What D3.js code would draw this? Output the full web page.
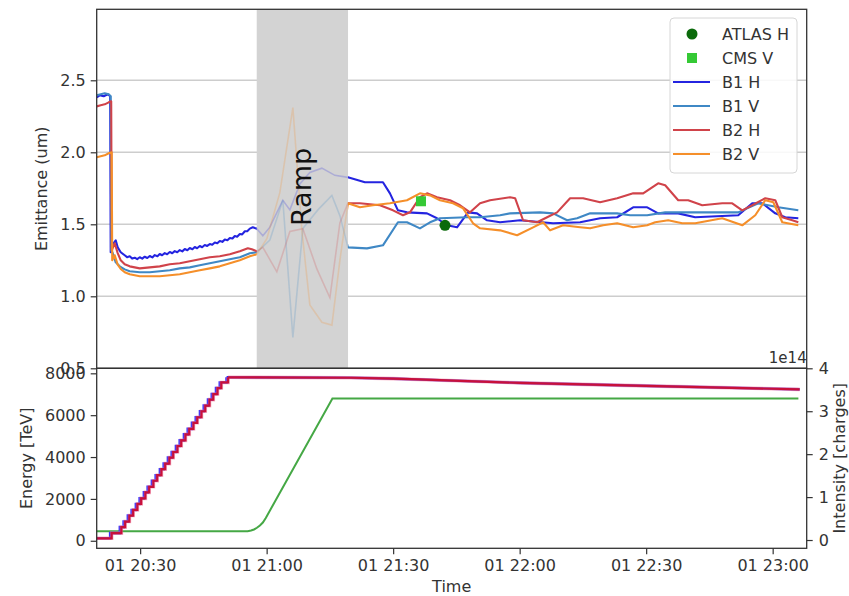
<!DOCTYPE html>
<html>
<head>
<meta charset="utf-8">
<script src="https://cdn.jsdelivr.net/npm/d3@7"></script>
<style>
  body { margin: 0; background: #fff; }
  svg text { font-family: "DejaVu Sans", sans-serif; }
</style>
</head>
<body>
<svg id="chart" width="849" height="596"></svg>
<script>
// All times are minutes after 20:00 on day 01.

// Emittance (um) per beam and plane, [minutes, value]
const b1H = [
  [19.70,2.382],[20.41,2.396],[21.36,2.389],[22.31,2.403],[22.90,2.389],
  [23.02,1.306],[23.50,1.361],[24.21,1.389],[24.68,1.340],[25.40,1.306],
  [26.34,1.285],[26.90,1.272],[27.53,1.278],[28.10,1.262],[28.72,1.268],[29.30,1.258],
  [29.91,1.271],[30.50,1.262],[31.09,1.275],[31.70,1.266],[32.28,1.280],[32.90,1.270],
  [33.47,1.286],[34.10,1.278],[34.65,1.294],[35.20,1.285],[35.84,1.300],[36.40,1.292],
  [37.03,1.308],[37.60,1.299],[38.21,1.314],[38.80,1.306],[39.40,1.321],[40.00,1.312],
  [40.59,1.328],[41.20,1.320],[41.77,1.335],[42.40,1.327],[42.96,1.342],[43.50,1.334],
  [44.15,1.349],[44.70,1.341],[45.33,1.356],[45.90,1.350],[46.52,1.363],[47.10,1.358],
  [47.71,1.374],[48.30,1.368],[48.89,1.384],[49.50,1.378],[50.08,1.394],[50.70,1.389],
  [51.27,1.405],[51.90,1.401],[52.45,1.419],[53.00,1.414],[53.64,1.433],[54.20,1.430],
  [54.83,1.452],[55.40,1.452],[56.01,1.470],[56.72,1.479],[57.20,1.474],[57.67,1.470],
  [59.10,1.420],[60.76,1.480],[63.84,1.667],[65.51,1.600],[67.88,1.780],[70.25,1.860],
  [73.10,1.890],[76.18,1.840],
  [79.27,1.826],[83.31,1.792],[87.58,1.792],[89.24,1.715],[91.14,1.597],[93.28,1.583],
  [98.03,1.576],[100.40,1.542],[102.78,1.493],[105.15,1.479],[107.76,1.583],[109.90,1.576],
  [112.27,1.528],[115.36,1.514],[120.10,1.528],[127.93,1.507],[134.34,1.514],[139.08,1.542],
  [143.12,1.549],[146.92,1.618],[150.24,1.618],[152.85,1.576],[157.60,1.576],[161.63,1.549],
  [171.84,1.563],[175.16,1.646],[177.54,1.646],[180.62,1.576],[182.99,1.549],[186.08,1.542]
];
const b1V = [
  [19.70,2.396],[20.65,2.403],[21.60,2.410],[22.55,2.403],[23.02,2.389],
  [23.14,1.319],[23.50,1.300],[24.21,1.236],[25.16,1.208],[26.34,1.187],[27.53,1.174],
  [29.91,1.167],[32.28,1.167],[34.65,1.174],[37.03,1.181],[39.40,1.194],[41.77,1.201],
  [44.15,1.215],[46.52,1.229],[48.89,1.243],[51.27,1.257],[53.64,1.271],[56.01,1.299],
  [57.67,1.306],
  [60.76,1.390],[63.84,1.667],[66.22,0.715],[68.58,1.470],[72.15,1.600],[75.47,1.700],
  [77.37,1.560],
  [79.27,1.340],[83.79,1.333],[87.58,1.354],[91.14,1.514],[93.28,1.514],[96.36,1.472],
  [98.74,1.514],[101.11,1.542],[107.52,1.549],[110.61,1.549],[115.36,1.563],[117.73,1.576],
  [124.84,1.583],[127.93,1.576],[131.25,1.528],[133.62,1.542],[136.71,1.576],[143.12,1.576],
  [146.21,1.563],[150.24,1.563],[154.51,1.583],[161.63,1.583],[171.84,1.583],[176.59,1.646],
  [181.33,1.618],[186.08,1.597]
];
const b2H = [
  [19.70,2.319],[20.65,2.326],[21.60,2.333],[22.55,2.347],[23.14,2.354],
  [23.26,1.320],[23.97,1.368],[24.68,1.300],[25.40,1.250],[26.34,1.222],[27.53,1.208],
  [29.91,1.194],[32.28,1.201],[34.65,1.208],[37.03,1.222],[39.40,1.229],[41.77,1.243],
  [44.15,1.257],[46.52,1.271],[48.89,1.278],[51.27,1.292],[53.64,1.313],[55.54,1.333],
  [56.49,1.326],[57.67,1.313],
  [59.10,1.340],[62.42,1.170],[65.51,1.450],[68.58,1.470],[71.91,1.190],[75.00,0.990],
  [77.37,1.510],
  [79.27,1.646],[82.12,1.646],[86.87,1.632],[89.96,1.597],[92.33,1.563],[93.99,1.583],
  [96.36,1.688],[98.03,1.715],[100.40,1.688],[103.49,1.667],[105.86,1.632],[108.24,1.583],
  [110.61,1.646],[112.98,1.667],[117.73,1.688],[118.92,1.681],[120.81,1.528],[124.13,1.514],
  [126.51,1.549],[128.88,1.583],[131.96,1.681],[135.05,1.681],[139.08,1.653],[143.12,1.681],
  [146.92,1.715],[149.29,1.715],[152.85,1.785],[154.51,1.771],[157.60,1.667],[159.97,1.667],
  [163.29,1.632],[168.04,1.646],[170.41,1.646],[172.79,1.597],[175.16,1.632],[178.25,1.681],
  [180.62,1.667],[182.28,1.549],[184.65,1.528],[186.08,1.514]
];
const b2V = [
  [19.70,1.965],[20.65,1.972],[21.60,1.979],[22.55,1.993],[23.26,2.000],
  [23.38,1.250],[23.97,1.285],[24.68,1.220],[25.40,1.190],[26.34,1.167],[27.53,1.153],
  [29.91,1.139],[32.28,1.139],[34.65,1.139],[37.03,1.146],[39.40,1.153],[41.77,1.167],
  [44.15,1.181],[46.52,1.194],[48.89,1.208],[51.27,1.229],[53.64,1.250],[56.01,1.278],
  [57.67,1.292],
  [60.05,1.400],[63.13,1.720],[66.22,2.310],[68.35,1.460],[70.25,0.940],[73.10,0.820],
  [75.47,0.800],[77.37,1.250],
  [79.27,1.646],[82.12,1.618],[85.20,1.632],[89.24,1.646],[93.28,1.667],[96.36,1.715],
  [98.74,1.701],[101.11,1.667],[104.20,1.646],[106.58,1.611],[108.95,1.507],[110.61,1.472],
  [115.36,1.458],[119.39,1.424],[123.19,1.479],[125.56,1.514],[127.22,1.458],[130.30,1.493],
  [134.34,1.479],[136.71,1.472],[139.80,1.493],[143.12,1.507],[146.92,1.479],[150.24,1.493],
  [152.14,1.514],[155.23,1.528],[158.55,1.507],[161.63,1.507],[168.04,1.542],[172.79,1.493],
  [175.87,1.563],[178.25,1.667],[180.15,1.653],[182.28,1.514],[186.08,1.493]
];

// Experiment emittance points
const atlasH = [[102.30,1.493]];
const cmsV = [[96.60,1.660]];

// Ramp window (minutes)
const rampWindow = [57.65, 79.30];

// Beam energy (GeV)
const energy = [
  [19.70,450],[54.50,450],[55.50,460],[56.30,490],[57.00,540],[57.70,620],[58.40,730],
  [59.10,870],[59.80,1090],[75.60,6800],[186.10,6800]
];
// Beam intensities (x1e14 charges): injection steps, then the stored beam
const fillB1 = [
  [19.70,0.04],[22.90,0.16],[25.20,0.30],[26.10,0.43],[27.10,0.57],[28.00,0.70],[29.00,0.84],
  [29.90,0.97],[30.90,1.11],[31.80,1.24],[32.80,1.38],[33.70,1.51],[34.70,1.65],[35.60,1.78],
  [36.60,1.92],[37.50,2.05],[38.50,2.19],[39.40,2.32],[40.40,2.46],[41.30,2.59],[42.30,2.73],
  [43.20,2.86],[44.20,3.00],[45.10,3.13],[46.10,3.27],[47.00,3.40],[48.00,3.54],[48.90,3.67],
  [50.50,3.79]
];
const fillB2 = [
  [19.70,0.04],[23.25,0.16],[25.55,0.30],[26.45,0.43],[27.45,0.57],[28.35,0.70],[29.35,0.84],
  [30.25,0.97],[31.25,1.11],[32.15,1.24],[33.15,1.38],[34.05,1.51],[35.05,1.65],[35.95,1.78],
  [36.95,1.92],[37.85,2.05],[38.85,2.19],[39.75,2.32],[40.75,2.46],[41.65,2.59],[42.65,2.73],
  [43.55,2.86],[44.55,3.00],[45.45,3.13],[46.45,3.27],[47.35,3.40],[48.35,3.54],[49.25,3.67],
  [50.85,3.79]
];
const storedB1 = [[50.50,3.79],[80.00,3.78],[90.00,3.76],[96.00,3.74],[120.00,3.66],[150.00,3.59],[186.40,3.51]];
const storedB2 = [[50.85,3.79],[80.00,3.78],[90.00,3.76],[96.00,3.74],[120.00,3.66],[150.00,3.59],[186.40,3.51]];

// Tick values
const emitTicks = [0.5, 1.0, 1.5, 2.0, 2.5];
const energyTicks = [0, 2000, 4000, 6000, 8000];
const intensityTicks = [0, 1, 2, 3, 4];
const timeTicks = [30, 60, 90, 120, 150, 180];

const BASE = Date.UTC(2022, 6, 1, 20, 0, 0);
const at = m => new Date(BASE + m * 60000);

const svg = d3.select("#chart");
const X0 = 96.7, X1 = 806.7, TOP0 = 9.3, MID = 368.3, BOT = 548.3;
const INK = "#333";

const x = d3.scaleUtc().domain([at(19.70), at(188.07)]).range([X0, X1]);
const yEm = d3.scaleLinear().domain([0.5, 2.993]).range([MID, TOP0]);
const yEn = d3.scaleLinear().domain([-360, 8240]).range([BOT, MID]);
const yIn = d3.scaleLinear().domain([-0.193, 4.0]).range([BOT, MID]);

const defs = svg.append("defs");
const r0 = x(at(rampWindow[0])), r1 = x(at(rampWindow[1]));
defs.append("clipPath").attr("id", "inRamp")
  .append("rect").attr("x", r0).attr("y", TOP0).attr("width", r1 - r0).attr("height", MID - TOP0);
const outClip = defs.append("clipPath").attr("id", "outRamp");
outClip.append("rect").attr("x", X0).attr("y", TOP0).attr("width", r0 - X0).attr("height", MID - TOP0);
outClip.append("rect").attr("x", r1).attr("y", TOP0).attr("width", X1 - r1).attr("height", MID - TOP0);

// ---------- emittance panel ----------
const emPanel = svg.append("g");
emPanel.selectAll("line.grid").data(emitTicks.filter(d => d > 0.5)).join("line")
  .attr("class", "grid")
  .attr("x1", X0).attr("x2", X1)
  .attr("y1", d => yEm(d)).attr("y2", d => yEm(d))
  .attr("stroke", "#cdcdcd").attr("stroke-width", 1.6);

emPanel.append("rect").attr("x", r0).attr("y", TOP0).attr("width", r1 - r0).attr("height", MID - TOP0)
  .attr("fill", "#d3d3d3");

const emLine = d3.line().x(d => x(at(d[0]))).y(d => yEm(d[1]));
const emSeries = [
  { name: "B1 H", data: b1H, color: "#2424e0" },
  { name: "B1 V", data: b1V, color: "#3f88c5" },
  { name: "B2 H", data: b2H, color: "#d0434a" },
  { name: "B2 V", data: b2V, color: "#f58f2a" }
];
emSeries.forEach(s => {
  emPanel.append("path").datum(s.data).attr("d", emLine)
    .attr("clip-path", "url(#inRamp)").attr("fill", "none")
    .attr("stroke", s.color).attr("stroke-width", 1.6).attr("opacity", 0.22);
});
emSeries.forEach(s => {
  emPanel.append("path").datum(s.data).attr("d", emLine)
    .attr("clip-path", "url(#outRamp)").attr("fill", "none")
    .attr("stroke", s.color).attr("stroke-width", 2.1).attr("stroke-linejoin", "round");
});

emPanel.selectAll("circle.atlas").data(atlasH).join("circle")
  .attr("cx", d => x(at(d[0]))).attr("cy", d => yEm(d[1])).attr("r", 5.5).attr("fill", "#0b6a0b");
emPanel.selectAll("rect.cms").data(cmsV).join("rect")
  .attr("x", d => x(at(d[0])) - 5).attr("y", d => yEm(d[1]) - 5)
  .attr("width", 10).attr("height", 10).attr("fill", "#35c935");

emPanel.append("text").attr("transform", `translate(${(r0 + r1) / 2 + 8.5},187) rotate(-90)`)
  .attr("text-anchor", "middle").attr("font-size", 27).attr("fill", "#111").text("Ramp");

emPanel.append("g").attr("transform", `translate(${X0},0)`)
  .call(d3.axisLeft(yEm).tickValues(emitTicks).tickFormat(d3.format(".1f")).tickSize(6).tickPadding(5));

emPanel.append("rect").attr("x", X0).attr("y", TOP0).attr("width", X1 - X0).attr("height", MID - TOP0)
  .attr("fill", "none").attr("stroke", INK).attr("stroke-width", 1.3);

emPanel.append("text").attr("transform", `translate(47,${(TOP0 + MID) / 2}) rotate(-90)`)
  .attr("text-anchor", "middle").attr("font-size", 16).attr("fill", INK).text("Emittance (um)");

// legend
const lg = emPanel.append("g");
lg.append("rect").attr("x", 670).attr("y", 18).attr("width", 127).attr("height", 155).attr("rx", 4)
  .attr("fill", "#fff").attr("fill-opacity", 0.85).attr("stroke", "#d6d6d6");
const legendItems = [
  { label: "ATLAS H", kind: "circle", color: "#0b6a0b" },
  { label: "CMS V", kind: "square", color: "#35c935" },
  ...emSeries.map(s => ({ label: s.name, kind: "line", color: s.color }))
];
legendItems.forEach((it, i) => {
  const yy = 34 + i * 24;
  if (it.kind === "circle") lg.append("circle").attr("cx", 692).attr("cy", yy).attr("r", 5.5).attr("fill", it.color);
  else if (it.kind === "square") lg.append("rect").attr("x", 687).attr("y", yy - 5).attr("width", 10).attr("height", 10).attr("fill", it.color);
  else lg.append("line").attr("x1", 673).attr("x2", 710).attr("y1", yy).attr("y2", yy).attr("stroke", it.color).attr("stroke-width", 2);
  lg.append("text").attr("x", 722).attr("y", yy).attr("dy", "0.36em").attr("font-size", 16).attr("fill", INK).text(it.label);
});

// ---------- energy / intensity panel ----------
const lowPanel = svg.append("g");
const enLine = d3.line().x(d => x(at(d[0]))).y(d => yEn(d[1]));
const stepLine = d3.line().x(d => x(at(d[0]))).y(d => yIn(d[1])).curve(d3.curveStepAfter);
const storeLine = d3.line().x(d => x(at(d[0]))).y(d => yIn(d[1]));

lowPanel.append("path").datum(energy).attr("d", enLine).attr("fill", "none")
  .attr("stroke", "#45a845").attr("stroke-width", 2);

function beam(fill, stored, color, width, opacity) {
  lowPanel.append("path").datum(fill).attr("d", stepLine).attr("fill", "none")
    .attr("stroke", color).attr("stroke-width", width).attr("opacity", opacity);
  lowPanel.append("path").datum(stored).attr("d", storeLine).attr("fill", "none")
    .attr("stroke", color).attr("stroke-width", width).attr("opacity", opacity);
}
beam(fillB1, storedB1, "#2a2aff", 2.6, 1);
beam(fillB2, storedB2, "#f07a9a", 3.6, 0.55);
beam(fillB2, storedB2, "#c8103a", 2.2, 1);

lowPanel.append("g").attr("transform", `translate(${X0},0)`)
  .call(d3.axisLeft(yEn).tickValues(energyTicks).tickFormat(d3.format("d")).tickSize(6).tickPadding(5));
lowPanel.append("g").attr("transform", `translate(${X1},0)`)
  .call(d3.axisRight(yIn).tickValues(intensityTicks).tickFormat(d3.format("d")).tickSize(6).tickPadding(6));
lowPanel.append("g").attr("transform", `translate(0,${BOT})`)
  .call(d3.axisBottom(x).tickValues(timeTicks.map(at)).tickFormat(d3.utcFormat("%d %H:%M")).tickSize(6).tickPadding(5));

lowPanel.append("rect").attr("x", X0).attr("y", MID).attr("width", X1 - X0).attr("height", BOT - MID)
  .attr("fill", "none").attr("stroke", INK).attr("stroke-width", 1.3);

lowPanel.append("text").attr("transform", `translate(32,${(MID + BOT) / 2}) rotate(-90)`)
  .attr("text-anchor", "middle").attr("font-size", 16).attr("fill", INK).text("Energy [TeV]");
lowPanel.append("text").attr("transform", `translate(845,${(MID + BOT) / 2}) rotate(-90)`)
  .attr("text-anchor", "middle").attr("font-size", 16).attr("fill", INK).text("Intensity [charges]");
lowPanel.append("text").attr("x", (X0 + X1) / 2).attr("y", 591.5).attr("text-anchor", "middle")
  .attr("font-size", 16).attr("fill", INK).text("Time");
lowPanel.append("text").attr("x", X1).attr("y", 363).attr("text-anchor", "end")
  .attr("font-size", 15).attr("fill", INK).text("1e14");

// shared axis styling
svg.selectAll(".domain").remove();
svg.selectAll(".tick line").attr("stroke", INK).attr("stroke-width", 1.2);
svg.selectAll(".tick text").attr("font-size", 16).attr("fill", INK)
  .attr("font-family", "DejaVu Sans, sans-serif");
</script>
</body>
</html>
